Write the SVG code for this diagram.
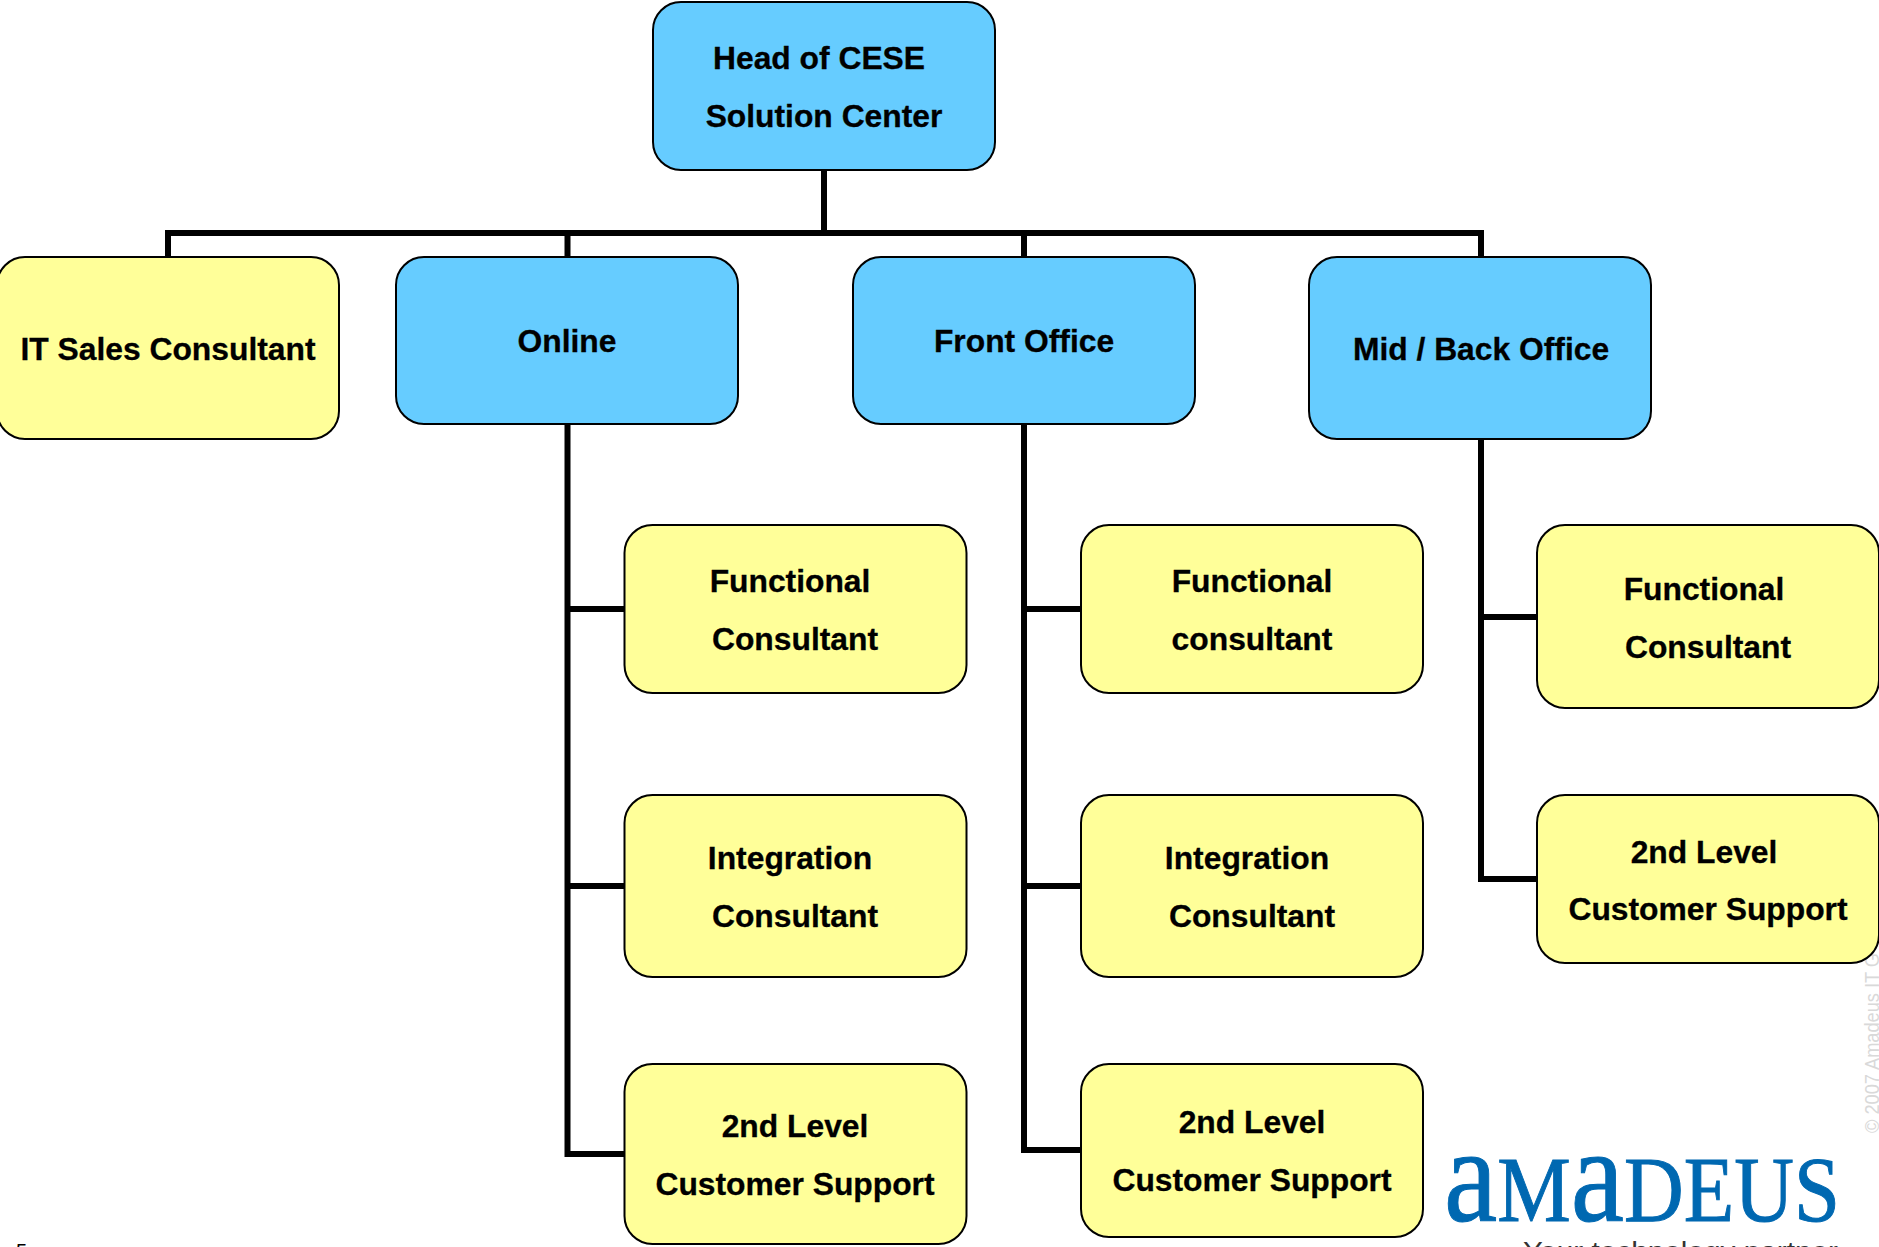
<svg xmlns="http://www.w3.org/2000/svg" width="1879" height="1247" viewBox="0 0 1879 1247">
<style>
.b{stroke:#000;stroke-width:2}
.blue{fill:#66ccff}
.yel{fill:#ffff99}
.t{font-family:"Liberation Sans",Arial,sans-serif;font-weight:700;font-size:31.8px;fill:#000;stroke:#000;stroke-width:.3;text-anchor:middle}
.c{fill:none;stroke:#000;stroke-width:6}
</style>
<rect width="1879" height="1247" fill="#fff"/>
<text transform="translate(1879 1133) rotate(-90)" font-family="'Liberation Sans',sans-serif" font-size="20" fill="#d9d9d9" textLength="180" lengthAdjust="spacingAndGlyphs">© 2007 Amadeus IT G</text>
<g id="connectors">
<path class="c" d="M824 170V233M168 256V233H1481V256M567.5 233V256M1024 233V256"/>
<path class="c" d="M567.5 424V1154H624M567.5 609H624M567.5 886H624"/>
<path class="c" d="M1024 424V1150H1080M1024 609H1080M1024 886H1080"/>
<path class="c" d="M1481 439V879H1536M1481 617H1536"/>
</g>
<g id="head"><rect class="b blue" x="653" y="2" width="342" height="168" rx="28"/><text class="t" x="819" y="69">Head of CESE</text><text class="t" x="824" y="127">Solution Center</text></g>
<g id="it-sales"><rect class="b yel" x="-3" y="257" width="342" height="182" rx="28"/><text class="t" x="168" y="360">IT Sales Consultant</text></g>
<g id="online"><rect class="b blue" x="396" y="257" width="342" height="167" rx="28"/><text class="t" x="567" y="352">Online</text></g>
<g id="front"><rect class="b blue" x="853" y="257" width="342" height="167" rx="28"/><text class="t" x="1024" y="352">Front Office</text></g>
<g id="mid"><rect class="b blue" x="1309" y="257" width="342" height="182" rx="28"/><text class="t" x="1481" y="360">Mid / Back Office</text></g>
<g id="on-func"><rect class="b yel" x="624.5" y="525" width="342" height="168" rx="28"/><text class="t" x="790" y="592">Functional</text><text class="t" x="795" y="650">Consultant</text></g>
<g id="on-int"><rect class="b yel" x="624.5" y="795" width="342" height="182" rx="28"/><text class="t" x="790" y="869">Integration</text><text class="t" x="795" y="927">Consultant</text></g>
<g id="on-2nd"><rect class="b yel" x="624.5" y="1064" width="342" height="180" rx="28"/><text class="t" x="795" y="1137">2nd Level</text><text class="t" x="795" y="1195">Customer Support</text></g>
<g id="fo-func"><rect class="b yel" x="1081" y="525" width="342" height="168" rx="28"/><text class="t" x="1252" y="592">Functional</text><text class="t" x="1252" y="650">consultant</text></g>
<g id="fo-int"><rect class="b yel" x="1081" y="795" width="342" height="182" rx="28"/><text class="t" x="1247" y="869">Integration</text><text class="t" x="1252" y="927">Consultant</text></g>
<g id="fo-2nd"><rect class="b yel" x="1081" y="1064" width="342" height="173" rx="28"/><text class="t" x="1252" y="1133">2nd Level</text><text class="t" x="1252" y="1191">Customer Support</text></g>
<g id="mb-func"><rect class="b yel" x="1537" y="525" width="342" height="183" rx="28"/><text class="t" x="1704" y="600">Functional</text><text class="t" x="1708" y="658">Consultant</text></g>
<g id="mb-2nd"><rect class="b yel" x="1537" y="795" width="342" height="168" rx="28"/><text class="t" x="1704" y="863">2nd Level</text><text class="t" x="1708" y="920">Customer Support</text></g>
<g id="logo">
<text x="1444" y="1221" font-family="'Liberation Serif',serif" font-size="93" fill="#0068b1" stroke="#0068b1" stroke-width="1" textLength="396" lengthAdjust="spacingAndGlyphs"><tspan font-size="135">a</tspan>M<tspan font-size="135">a</tspan>DEUS</text>
<text x="1523" y="1260" font-family="'Liberation Sans',sans-serif" font-size="26" fill="#333" textLength="315" lengthAdjust="spacingAndGlyphs">Your technology partner</text>
</g>
<text x="16" y="1258" font-family="'Liberation Sans',sans-serif" font-size="20" fill="#000">5</text>
</svg>
